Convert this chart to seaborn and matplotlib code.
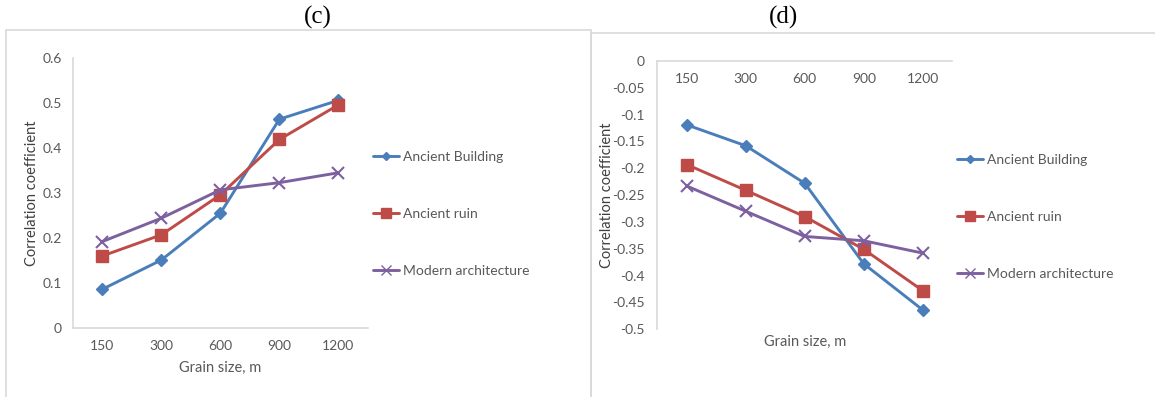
import matplotlib
matplotlib.use("Agg")
import matplotlib.pyplot as plt
from matplotlib.patches import Rectangle
import seaborn as sns
import pandas as pd

# ---------------- data ----------------
grain_sizes = ["150", "300", "600", "900", "1200"]
series_names = ["Ancient Building", "Ancient ruin", "Modern architecture"]

c_ancient_building = [0.086, 0.151, 0.255, 0.464, 0.506]
c_ancient_ruin = [0.160, 0.207, 0.296, 0.419, 0.496]
c_modern_arch = [0.192, 0.244, 0.307, 0.323, 0.345]

d_ancient_building = [-0.119, -0.158, -0.228, -0.378, -0.464]
d_ancient_ruin = [-0.193, -0.241, -0.290, -0.351, -0.428]
d_modern_arch = [-0.233, -0.280, -0.327, -0.335, -0.358]

c_ticks = [0, 0.1, 0.2, 0.3, 0.4, 0.5, 0.6]
c_ticklabels = ["0", "0.1", "0.2", "0.3", "0.4", "0.5", "0.6"]
d_ticks = [0, -0.05, -0.1, -0.15, -0.2, -0.25, -0.3, -0.35, -0.4, -0.45, -0.5]
d_ticklabels = ["0", "-0.05", "-0.1", "-0.15", "-0.2", "-0.25", "-0.3", "-0.35",
                "-0.4", "-0.45", "-0.5"]

# ---------------- style ----------------
sns.set_theme(style="white")
plt.rcParams["font.family"] = ["Lato", "DejaVu Sans"]

TXT = "#595959"
AXC = "#d9d9d9"
colors = ["#4a7ebb", "#be4b48", "#7d60a0"]
markers = ["D", "s", "x"]
msizes = [6.5, 8.5, 9]
mews = [1, 1, 1.5]

W, H = 1155, 397
fig = plt.figure(figsize=(W / 100, H / 100), dpi=100)

def fx(px):
    return px / W

def fy(py):
    return 1 - py / H

# chart frames
fig.patches.append(Rectangle((fx(6), fy(400)), fx(591) - fx(6), fy(30) - fy(400),
                             transform=fig.transFigure, fill=False, ec=AXC, lw=1.2))
fig.patches.append(Rectangle((fx(591), fy(400)), fx(1160) - fx(591), fy(33) - fy(400),
                             transform=fig.transFigure, fill=False, ec=AXC, lw=1.2))

fig.text(fx(318), fy(17), "(c)", family="Liberation Serif", fontsize=18,
         ha="center", va="center", color="black")
fig.text(fx(784), fy(17), "(d)", family="Liberation Serif", fontsize=18,
         ha="center", va="center", color="black")

ax_c = fig.add_axes([fx(72.7), fy(328), fx(368) - fx(72.7), fy(58) - fy(328)])
ax_d = fig.add_axes([fx(657.3), fy(329.3), fx(952.3) - fx(657.3), fy(61) - fy(329.3)])

xpos = list(range(len(grain_sizes)))

def draw(ax, values):
    for name, vals, col, mk, ms, mew in zip(series_names, values, colors, markers, msizes, mews):
        df = pd.DataFrame({"x": xpos, "y": vals})
        sns.lineplot(data=df, x="x", y="y", ax=ax, color=col, marker=mk,
                     markersize=ms, markeredgecolor=col, markeredgewidth=mew,
                     linewidth=2.1, label=name)
    ax.set_xlim(-0.5, len(grain_sizes) - 0.5)
    ax.set_xticks(xpos)
    ax.set_xticklabels(grain_sizes)
    for s in ["top", "right"]:
        ax.spines[s].set_visible(False)
    for s in ["left", "bottom"]:
        ax.spines[s].set_color(AXC)
        ax.spines[s].set_linewidth(1.2)
    ax.tick_params(axis="both", length=0, colors=TXT, labelsize=10)
    ax.set_facecolor("none")
    ax.grid(False)

draw(ax_c, [c_ancient_building, c_ancient_ruin, c_modern_arch])
draw(ax_d, [d_ancient_building, d_ancient_ruin, d_modern_arch])

ax_c.set_ylim(0, 0.6)
ax_c.set_yticks(c_ticks)
ax_c.set_yticklabels(c_ticklabels)
ax_c.tick_params(axis="y", pad=8)
ax_c.tick_params(axis="x", pad=9)

ax_d.set_ylim(-0.5, 0)
ax_d.set_yticks(d_ticks)
ax_d.set_yticklabels(d_ticklabels)
ax_d.spines["bottom"].set_position(("data", 0))
ax_d.tick_params(axis="y", pad=9)
ax_d.tick_params(axis="x", pad=8.5)

for ax, xl_y, yl_x in [(ax_c, -0.122, -0.114), (ax_d, -0.022, -0.148)]:
    ax.set_xlabel("Grain size, m", fontsize=10.5, color=TXT)
    ax.set_ylabel("Correlation coefficient", fontsize=10.5, color="#404040")
    ax.xaxis.set_label_coords(0.5, xl_y)
    ax.yaxis.set_label_coords(yl_x, 0.5)

def legend(ax, left, top):
    handles, labels = ax.get_legend_handles_labels()
    leg = ax.legend(handles, labels, loc="upper left",
                    bbox_to_anchor=(fx(left), fy(top)), bbox_transform=fig.transFigure,
                    frameon=False, fontsize=10, handlelength=1.9, handletextpad=0.25,
                    labelspacing=3.25, borderpad=0, borderaxespad=0)
    for h, ms in zip(leg.legend_handles, [4.5, 6.5, 6.5]):
        h.set_markersize(ms)
        h.set_markeredgewidth(1)
    for t in leg.get_texts():
        t.set_color(TXT)

legend(ax_c, 373, 151)
legend(ax_d, 957, 154)

fig.savefig("out.png", dpi=100, facecolor="white")
